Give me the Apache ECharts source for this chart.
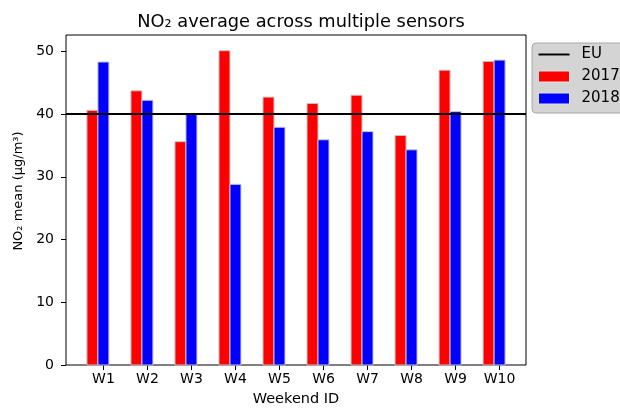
<!DOCTYPE html>
<html>
<head>
<meta charset="utf-8">
<script src="https://cdn.jsdelivr.net/npm/echarts@6/dist/echarts.min.js"></script>
<style>html,body{margin:0;padding:0;background:#fff}#c{width:620px;height:410px}</style>
</head>
<body>
<div id="c"></div>
<script>
const categories = ['W1','W2','W3','W4','W5','W6','W7','W8','W9','W10'];
const values2017 = [40.6, 43.7, 35.6, 50.1, 42.7, 41.7, 43.0, 36.6, 47.0, 48.4];
const values2018 = [48.3, 42.2, 40.0, 28.8, 37.9, 35.9, 37.2, 34.3, 40.4, 48.6];
const euLimit = [40];
const yTicks = [0, 10, 20, 30, 40, 50];

const BAR_W = 0.25;
const X_MIN = -0.85, X_MAX = 9.6;
const FONT = 'DejaVu Sans';

function barItem(fill) {
  return function (params, api) {
    const x = api.value(0), y = api.value(1);
    const p0 = api.coord([x - BAR_W / 2, y]);
    const p1 = api.coord([x + BAR_W / 2, 0]);
    return {
      type: 'rect',
      shape: { x: p0[0], y: p0[1], width: p1[0] - p0[0], height: p1[1] - p0[1] },
      style: { fill: fill, stroke: '#c8c8c8', lineWidth: 1 }
    };
  };
}

function hLineItem(params, api) {
  const cs = params.coordSys;
  const y = api.coord([0, api.value(1)])[1];
  return {
    type: 'line',
    shape: { x1: cs.x, y1: y, x2: cs.x + cs.width, y2: y },
    style: { stroke: '#000', lineWidth: 2 }
  };
}

const chart = echarts.init(document.getElementById('c'), null, { renderer: 'canvas' });
chart.setOption({
  animation: false,
  textStyle: { fontFamily: FONT },
  title: {
    text: 'NO\u2082 average across multiple sensors',
    left: 296, top: 8, textAlign: 'center',
    textStyle: { fontFamily: FONT, fontSize: 17.8, fontWeight: 'normal', color: '#000' }
  },
  grid: {
    left: 66, right: 94, top: 35, bottom: 45,
    show: true, borderColor: '#000', borderWidth: 1, backgroundColor: 'transparent',
    outerBoundsMode: 'none'
  },
  legend: {
    orient: 'vertical', left: 532, top: 43,
    backgroundColor: '#d4d4d4', borderColor: '#a8a8a8', borderWidth: 1, borderRadius: 4,
    padding: [4, 14, 7, 6],
    itemWidth: 31, itemHeight: 11, itemGap: 7,
    textStyle: { fontFamily: FONT, fontSize: 15, color: '#000', padding: [0, 0, 0, 7] },
    data: [
      { name: 'EU', icon: 'path://M0,0H32V2H0Z', itemStyle: { color: '#000' } },
      { name: '2017', icon: 'rect', itemStyle: { color: 'red', borderColor: '#e0e0e0', borderWidth: 1 } },
      { name: '2018', icon: 'rect', itemStyle: { color: 'blue', borderColor: '#e0e0e0', borderWidth: 1 } }
    ]
  },
  xAxis: {
    type: 'value', min: X_MIN, max: X_MAX,
    name: 'Weekend ID', nameLocation: 'middle', nameGap: 27,
    nameTextStyle: { fontFamily: FONT, fontSize: 14.5, color: '#000' },
    axisLine: { show: false, onZero: false },
    axisTick: { show: true, length: 5, lineStyle: { color: '#000' }, customValues: categories.map((c, i) => i) },
    axisLabel: {
      fontFamily: FONT, fontSize: 14, color: '#000', margin: 7,
      customValues: categories.map((c, i) => i),
      formatter: v => categories[Math.round(v)] || ''
    },
    splitLine: { show: false }
  },
  yAxis: {
    type: 'value', min: 0, max: 52.6,
    name: 'NO\u2082 mean (\u03bcg/m\u00b3)', nameLocation: 'middle', nameGap: 35, nameRotate: 90,
    nameTextStyle: { fontFamily: FONT, fontSize: 13, color: '#000', padding: [0, 0, 0, 18] },
    axisLine: { show: false, onZero: false },
    axisTick: { show: true, length: 5, lineStyle: { color: '#000' }, customValues: yTicks },
    axisLabel: { fontFamily: FONT, fontSize: 14, color: '#000', margin: 12, customValues: yTicks },
    splitLine: { show: false }
  },
  series: [
    {
      name: '2017', type: 'custom', renderItem: barItem('red'),
      itemStyle: { color: 'red' }, label: { show: false },
      data: values2017.map((v, i) => [i - BAR_W, v]), z: 2
    },
    {
      name: '2018', type: 'custom', renderItem: barItem('blue'),
      itemStyle: { color: 'blue' }, label: { show: false },
      data: values2018.map((v, i) => [i, v]), z: 2
    },
    {
      name: 'EU', type: 'custom', renderItem: hLineItem, z: 5,
      itemStyle: { color: '#000' }, label: { show: false },
      data: euLimit.map(v => [0, v])
    }
  ]
});
</script>
</body>
</html>
